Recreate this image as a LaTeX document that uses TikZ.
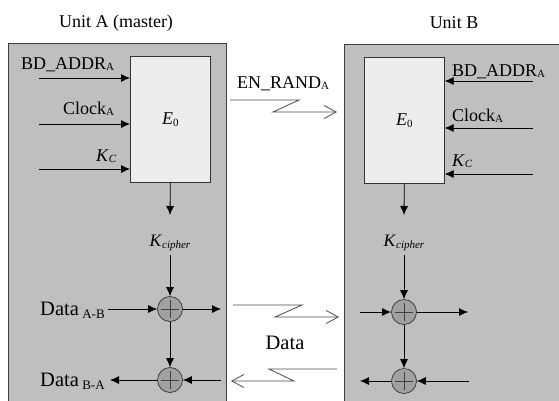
\documentclass[tikz,border=0pt]{standalone}
\usepackage{fontspec}
\setmainfont{Liberation Serif}
\usetikzlibrary{arrows.meta}
\newcommand\lsub[2]{\raisebox{-#2}{\fontsize{11}{11}\selectfont #1}}
\newcommand\dsub[1]{\raisebox{-3pt}{\fontsize{13}{14}\selectfont #1}}
\begin{document}
\begin{tikzpicture}[x=1pt,y=-1pt,
  unitbox/.style={draw=black!75, fill=black!25, line width=0.8pt, inner sep=0pt},
  encbox/.style={draw=black!80, fill=black!7, line width=0.7pt, inner sep=0pt,
    minimum width=80pt, minimum height=126pt, font=\fontsize{18}{20}\selectfont},
  xorc/.style={circle, draw=black!80, fill=black!37, line width=0.7pt, minimum size=25pt, inner sep=0pt,
    path picture={\draw[black!75, line width=0.6pt]
      ([xshift=-9pt]path picture bounding box.center) -- ([xshift=9pt]path picture bounding box.center)
      ([yshift=-9pt]path picture bounding box.center) -- ([yshift=9pt]path picture bounding box.center);}},
  lbl/.style={inner sep=0pt, font=\fontsize{18}{20}\selectfont},
  dlbl/.style={inner sep=0pt, font=\fontsize{20.5}{22}\selectfont},
  arr/.style={draw=black, line width=0.8pt, -{Latex[length=9pt,width=8pt]}},
  bolt/.style={draw=black!70, line width=0.8pt, line join=miter, -{Straight Barb[length=12pt,width=13pt,line width=0.8pt]}}
]
\useasboundingbox (0,0) rectangle (559,400);
\clip (0,0) rectangle (559,400);

% unit boxes
\node (ua) [unitbox, anchor=north west, minimum width=218pt, minimum height=365pt] at (8,43) {};
\node (ub) [unitbox, anchor=north west, minimum width=222pt, minimum height=365pt] at (344,44) {};

% titles
\node (ta) [lbl] at (116,23) {Unit A (master)};
\node (tb) [lbl] at (454,23) {Unit B};

% encryption engines
\node (ea) [encbox, anchor=north west] at (130,56) {\textit{E}\lsub{0}{2pt}};
\node (eb) [encbox, anchor=north west] at (364,57) {\textit{E}\lsub{0}{2pt}};

% input labels, unit A
\node (la1) [lbl, anchor=base west] at (21,69) {BD\_ADDR\lsub{A}{1pt}};
\node (la2) [lbl, anchor=base west] at (63,114) {Clock\lsub{A}{1pt}};
\node (la3) [lbl, anchor=base west] at (96,161) {\textit{K}\lsub{\textit{C}}{1pt}};
% input labels, unit B
\node (lb1) [lbl, anchor=base west] at (452,76) {BD\_ADDR\lsub{A}{1pt}};
\node (lb2) [lbl, anchor=base west] at (452,121) {Clock\lsub{A}{1pt}};
\node (lb3) [lbl, anchor=base west] at (452,166) {\textit{K}\lsub{\textit{C}}{1pt}};

% input arrows
\coordinate (ia1) at (39,78);
\coordinate (ia2) at (39,124);
\coordinate (ia3) at (39,169);
\draw[arr] (ia1) -- (ia1 -| ea.west);
\draw[arr] (ia2) -- (ia2 -| ea.west);
\draw[arr] (ia3) -- (ia3 -| ea.west);
\coordinate (ib1) at (533,81);
\coordinate (ib2) at (533,128);
\coordinate (ib3) at (533,174);
\draw[arr] (ib1) -- (ib1 -| eb.east);
\draw[arr] (ib2) -- (ib2 -| eb.east);
\draw[arr] (ib3) -- (ib3 -| eb.east);

% Kcipher
\node (ka) [lbl, font=\fontsize{17.5}{19}\selectfont] at (170,243) {\textit{K}\lsub{\textit{cipher}}{2pt}};
\node (kb) [lbl, font=\fontsize{17.5}{19}\selectfont] at (404,243) {\textit{K}\lsub{\textit{cipher}}{2pt}};
\coordinate (ka0) at (170,215);
\coordinate (kb0) at (404,215);
\draw[arr] (ea.south) -- (ka0);
\draw[arr] (eb.south) -- (kb0);

% XOR circles
\node (xa1) [xorc] at (170,309) {};
\node (xa2) [xorc] at (170,380) {};
\node (xb1) [xorc] at (404,312) {};
\node (xb2) [xorc] at (404,381) {};

\draw[arr] ([yshift=-4pt]ka.south) -- (xa1.north);
\draw[arr] ([yshift=-4pt]kb.south) -- (xb1.north);
\draw[arr] (xa1.south) -- (xa2.north);
\draw[arr] (xb1.south) -- (xb2.north);

% data labels unit A
\node (da1) [dlbl, anchor=base west] at (40,315) {Data\,\dsub{A-B}};
\node (da2) [dlbl, anchor=base west] at (40,386) {Data\,\dsub{B-A}};

\coordinate (pa1) at (108,309);
\coordinate (pa2) at (221,309);
\coordinate (pa3) at (221,380);
\coordinate (pa4) at (110,380);
\draw[arr] (pa1) -- (xa1.west);
\draw[arr] (xa1.east) -- (pa2);
\draw[arr] (pa3) -- (xa2.east);
\draw[arr] (xa2.west) -- (pa4);

\coordinate (pb1) at (360,312);
\coordinate (pb2) at (468,312);
\coordinate (pb3) at (469,381);
\coordinate (pb4) at (360,381);
\draw[arr] (pb1) -- (xb1.west);
\draw[arr] (xb1.east) -- (pb2);
\draw[arr] (pb3) -- (xb2.east);
\draw[arr] (xb2.west) -- (pb4);

% radio links
\node (en) [lbl, anchor=base west] at (237,88) {EN\_RAND\lsub{A}{1pt}};
\node (dm) [dlbl] at (285,343) {Data};
\coordinate (r1s) at (230,100);
\coordinate (r1e) at (337,112);
\draw[bolt] (r1s) -- (299,100) -- (273,112) -- (r1e);
\coordinate (r2s) at (233,305);
\coordinate (r2e) at (339,317);
\draw[bolt] (r2s) -- (302,305) -- (275,317) -- (r2e);
\coordinate (r3s) at (337,369);
\coordinate (r3e) at (231,381);
\draw[bolt] (r3s) -- (269,369) -- (294,381) -- (r3e);
\end{tikzpicture}
\end{document}
